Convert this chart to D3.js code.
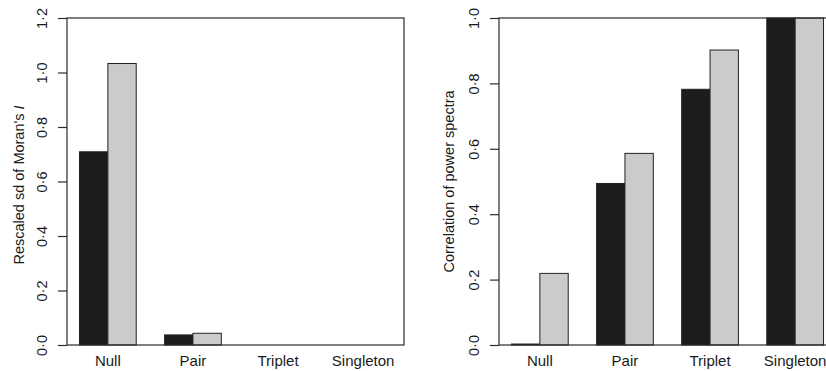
<!DOCTYPE html>
<html><head><meta charset="utf-8">
<script src="https://cdn.jsdelivr.net/npm/d3@7"></script>
<style>
body{margin:0;background:#fff;}
svg{display:block;}
text{font-family:"Liberation Sans",Arial,Helvetica,sans-serif;fill:#1a1a1a;}
</style></head>
<body><svg id="c" width="826" height="371"></svg>
<script>
const categories = ["Null","Pair","Triplet","Singleton"];
const leftBlack = [0.709, 0.037, 0, 0];
const leftGray  = [1.033, 0.043, 0, 0];
const rightBlack = [0.003, 0.494, 0.782, 1.0];
const rightGray  = [0.219, 0.586, 0.902, 1.0];
const leftTicks = [0, 0.2, 0.4, 0.6, 0.8, 1.0, 1.2];
const rightTicks = [0, 0.2, 0.4, 0.6, 0.8, 1.0];
const leftTitle = "Rescaled sd of Moran's ";
const rightTitle = "Correlation of power spectra";

const svg = d3.select("#c");
const fmt = v => d3.format(".1f")(v).replace(".", "\u00B7");
const DARK = "#1c1c1c", GRAY = "#cbcbcb", LINE = "#2a2a2a";

function panel(x0, x1, yTop, yBot, black, gray, ymax, ticks, titleX, titleY, titleFn) {
  const g = svg.append("g");
  // R barplot-style positions: bars at units 1..12 with space 1 between groups
  const x = d3.scaleLinear().domain([0.56, 12.44]).range([x0, x1]);
  const y = d3.scaleLinear().domain([0, ymax]).range([yBot, yTop]);
  const series = [{vals: black, fill: DARK, off: 0}, {vals: gray, fill: GRAY, off: 1}];
  series.forEach(s => {
    g.selectAll(null).data(s.vals).enter().append("rect")
      .attr("x", (d, i) => x(1 + 3 * i + s.off))
      .attr("width", x(2) - x(1))
      .attr("y", d => y(d))
      .attr("height", d => y(0) - y(d))
      .attr("fill", s.fill)
      .attr("stroke", d => d > 0 ? "#222" : "none")
      .attr("stroke-width", 1);
  });
  // frame
  g.append("rect").attr("x", x0).attr("y", yTop).attr("width", x1 - x0).attr("height", yBot - yTop)
    .attr("fill", "none").attr("stroke", LINE).attr("stroke-width", 1.2);
  // y axis
  const ax = g.append("g").attr("transform", `translate(${x0},0)`)
    .call(d3.axisLeft(y).tickValues(ticks).tickFormat(fmt).tickSize(9).tickPadding(0));
  ax.select(".domain").remove();
  ax.selectAll(".tick line").attr("stroke", LINE).attr("stroke-width", 1.2);
  ax.selectAll(".tick text")
    .attr("x", 0).attr("dy", null)
    .attr("transform", "translate(-25,0) rotate(-90)")
    .attr("text-anchor", "middle").attr("dominant-baseline", "central")
    .attr("font-size", 14.5).style("font-family", '"Liberation Sans",Arial,sans-serif').attr("fill", "#1a1a1a");
  // x category labels
  g.selectAll(null).data(categories).enter().append("text")
    .attr("x", (d, i) => x(2 + 3 * i))
    .attr("y", 366)
    .attr("text-anchor", "middle")
    .attr("font-size", 15)
    .text(d => d);
  // y title
  const t = g.append("text")
    .attr("transform", `translate(${titleX},${titleY}) rotate(-90)`)
    .attr("text-anchor", "middle").attr("dominant-baseline", "central")
    .attr("font-size", 14.5);
  titleFn(t);
}

panel(67, 404, 18, 345, leftBlack, leftGray, 1.2, leftTicks, 19, 185, t => {
  t.append("tspan").text(leftTitle);
  t.append("tspan").attr("font-style", "italic").text("I");
});
panel(499, 836, 18, 345, rightBlack, rightGray, 1.0, rightTicks, 449, 181.5, t => {
  t.text(rightTitle);
});
</script></body></html>
